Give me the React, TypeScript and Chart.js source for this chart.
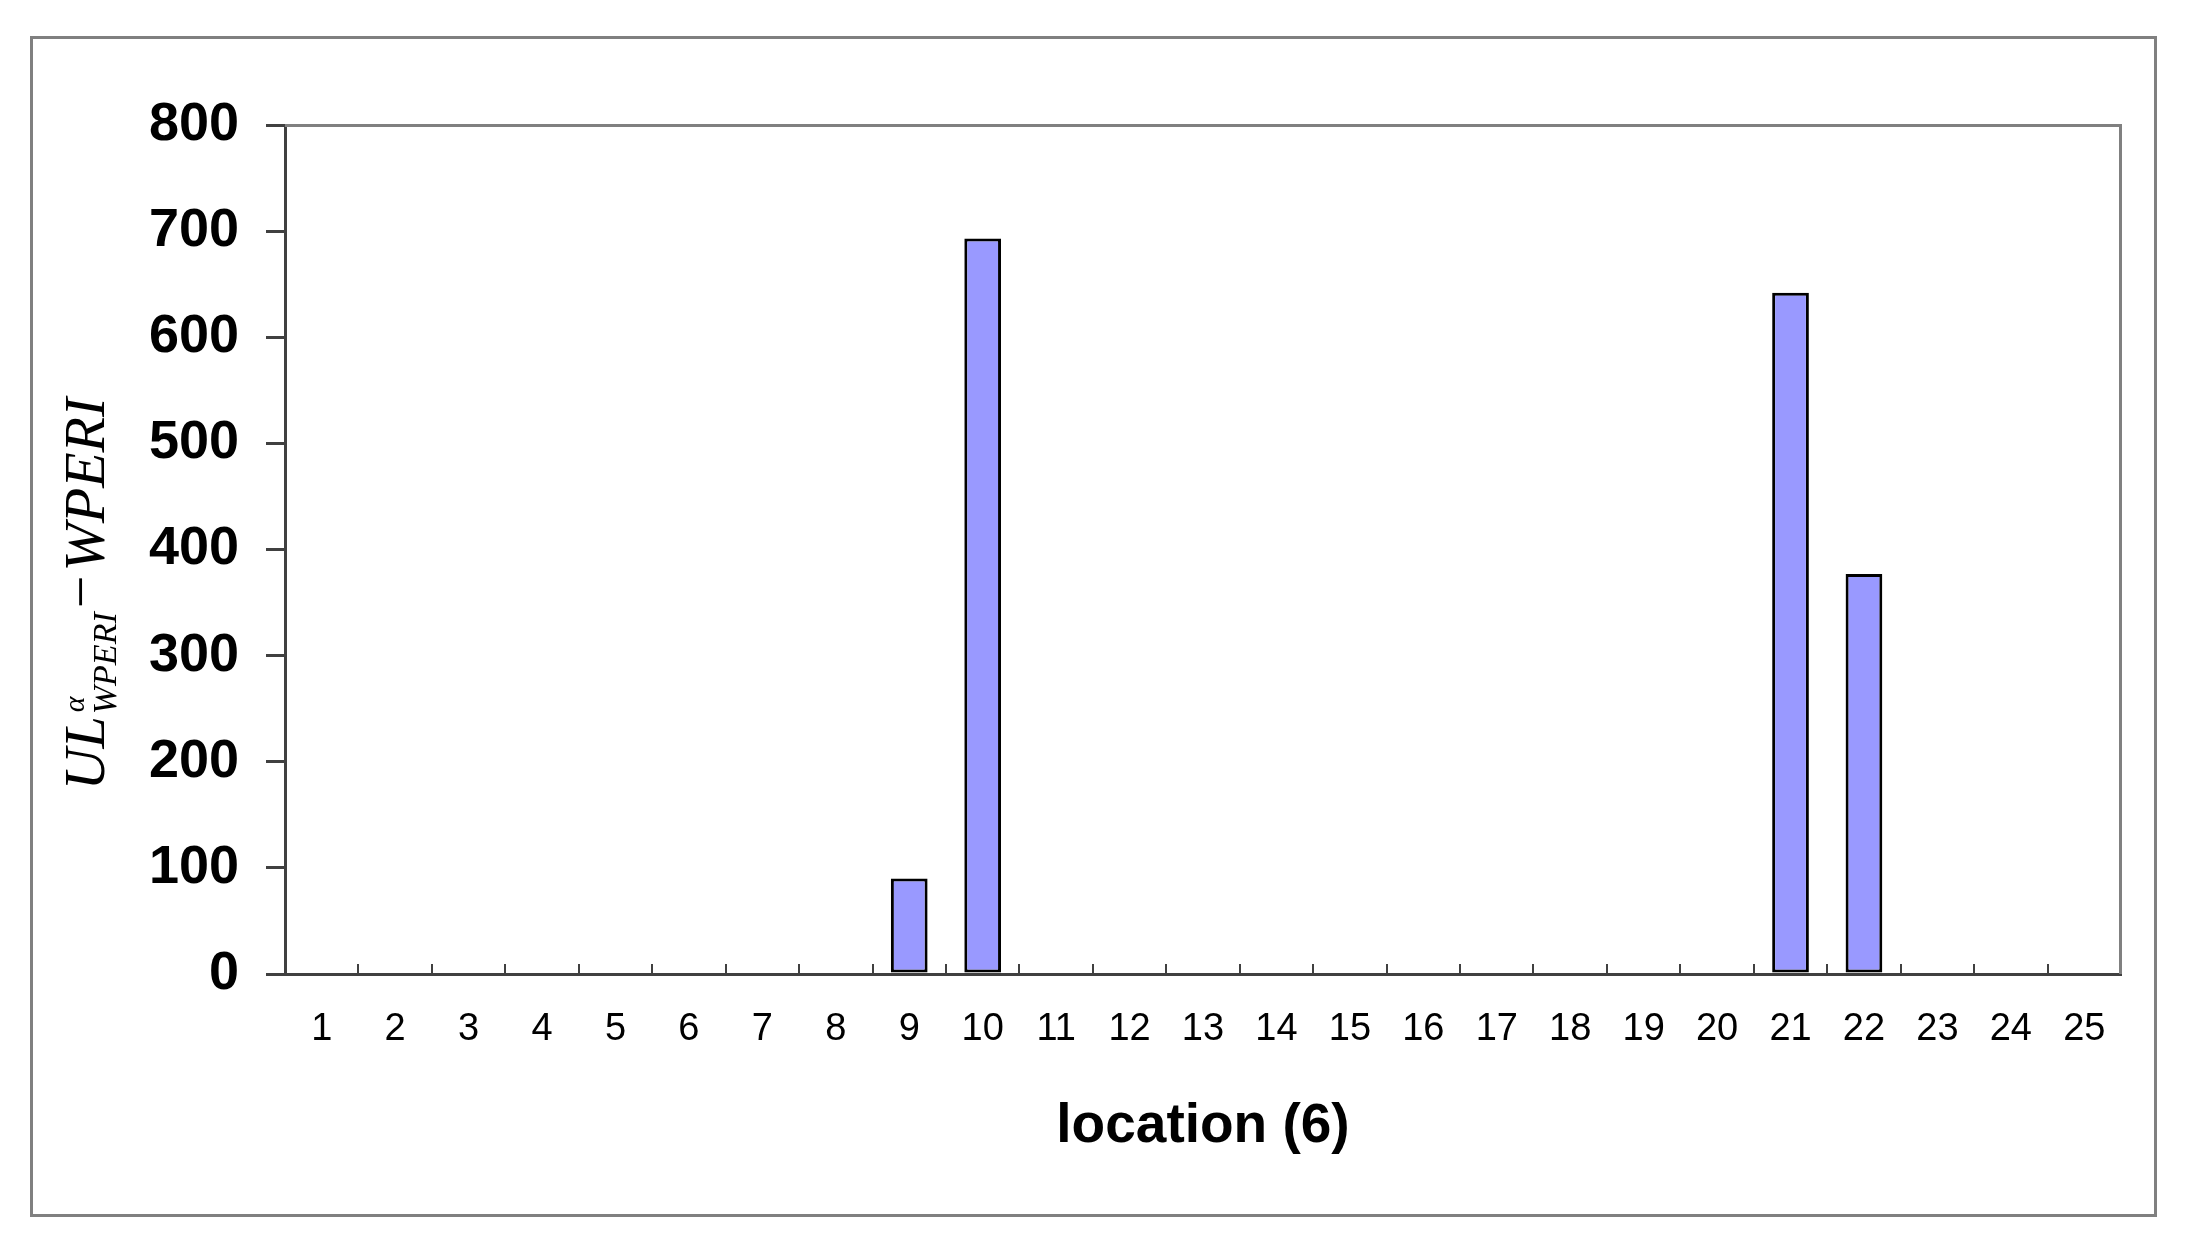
import React, { useEffect, useRef } from "react";
import { Chart, registerables } from "chart.js";

Chart.register(...registerables);

const categories: string[] = Array.from({ length: 25 }, (_, i) => String(i + 1));
const values: number[] = [0, 0, 0, 0, 0, 0, 0, 0, 90, 693, 0, 0, 0, 0, 0, 0, 0, 0, 0, 0, 642, 377, 0, 0, 0];
const yTickValues: number[] = [0, 100, 200, 300, 400, 500, 600, 700, 800];
const xTitle = "location (6)";
const yTitleMain = "UL";
const yTitleSup = "α";
const yTitleSub = "WPERI";
const yTitleRest = "WPERI";

const W = 2186;
const H = 1259;

const decorPlugin = {
  id: "decor",
  beforeDraw(chart: any) {
    const ctx = chart.ctx;
    ctx.save();
    ctx.fillStyle = "#ffffff";
    ctx.fillRect(0, 0, chart.width, chart.height);
    ctx.strokeStyle = "#808080";
    ctx.lineWidth = 3;
    ctx.strokeRect(31.5, 37.5, 2124, 1178);
    ctx.restore();
  },
  afterDraw(chart: any) {
    const ctx = chart.ctx;
    const { left, right, top, bottom } = chart.chartArea;
    const xs = chart.scales.x;
    ctx.save();
    ctx.strokeStyle = "#808080";
    ctx.lineWidth = 3;
    ctx.beginPath();
    ctx.moveTo(left, top + 0.5);
    ctx.lineTo(right - 0.5, top + 0.5);
    ctx.lineTo(right - 0.5, bottom);
    ctx.stroke();
    ctx.strokeStyle = "#404040";
    ctx.lineWidth = 2;
    for (let i = 1; i < categories.length; i++) {
      const x = Math.round((xs.getPixelForValue(i) + xs.getPixelForValue(i - 1)) / 2);
      ctx.beginPath();
      ctx.moveTo(x, bottom);
      ctx.lineTo(x, bottom - 10);
      ctx.stroke();
    }
    ctx.fillStyle = "#000000";
    ctx.font = 'bold 55px "Liberation Sans", Arial, sans-serif';
    ctx.textAlign = "center";
    ctx.textBaseline = "alphabetic";
    ctx.fillText(xTitle, (left + right) / 2, 1142);

    const mainFont = 'italic 58px "Liberation Serif", "Times New Roman", serif';
    const supFont = 'italic 30px "Liberation Serif", "Times New Roman", serif';
    const subFont = 'italic 34px "Liberation Serif", "Times New Roman", serif';
    const minusFont = '58px "Liberation Serif", "Times New Roman", serif';
    ctx.font = mainFont;
    const wMain = ctx.measureText(yTitleMain).width;
    const wRest = ctx.measureText(yTitleRest).width;
    ctx.font = supFont;
    const wSup = ctx.measureText(yTitleSup).width;
    ctx.font = subFont;
    const wSub = ctx.measureText(yTitleSub).width;
    ctx.font = minusFont;
    const wMinus = ctx.measureText("−").width;
    const gap = 4;
    const total = wMain + 2 + Math.max(wSup, wSub) + gap + wMinus + gap + wRest;
    const cy = 594;
    ctx.translate(104, cy + total / 2);
    ctx.rotate(-Math.PI / 2);
    ctx.textAlign = "left";
    let x = 0;
    ctx.font = mainFont;
    ctx.fillText(yTitleMain, x, 0);
    x += wMain + 2;
    ctx.font = supFont;
    ctx.fillText(yTitleSup, x + 2, -20);
    ctx.font = subFont;
    ctx.fillText(yTitleSub, x, 12);
    x += Math.max(wSup, wSub) + gap;
    ctx.font = minusFont;
    ctx.fillText("−", x, -4);
    x += wMinus + gap;
    ctx.font = mainFont;
    ctx.fillText(yTitleRest, x, 0);
    ctx.restore();
  },
};

export default function App() {
  const ref = useRef<HTMLCanvasElement>(null);
  useEffect(() => {
    if (!ref.current) return;
    const chart = new Chart(ref.current, {
      type: "bar",
      data: {
        labels: categories,
        datasets: [
          {
            data: values,
            backgroundColor: "#9999FF",
            borderColor: "#000000",
            borderWidth: 3,
            borderSkipped: false,
            barPercentage: 0.5,
            categoryPercentage: 1,
          },
        ],
      },
      options: {
        responsive: false,
        animation: false,
        events: [],
        layout: { padding: { left: 0, top: 125, right: 65, bottom: 0 } },
        plugins: {
          legend: { display: false },
          tooltip: { enabled: false },
          title: { display: false },
        },
        scales: {
          x: {
            offset: true,
            grid: { display: true, drawOnChartArea: false, drawTicks: false, color: "#404040" },
            border: { display: true, color: "#404040", width: 3 },
            ticks: {
              color: "#000000",
              font: { family: '"Liberation Sans", Arial, sans-serif', size: 38 },
              padding: 33,
              maxRotation: 0,
              autoSkip: false,
            },
            afterFit: (scale: any) => {
              scale.height = 285;
            },
          },
          y: {
            min: 0,
            max: 800,
            afterBuildTicks: (scale: any) => {
              scale.ticks = yTickValues.map((v) => ({ value: v }));
            },
            grid: { display: true, drawOnChartArea: false, drawTicks: true, tickLength: 19, color: "#404040", lineWidth: 3 },
            border: { display: true, color: "#404040", width: 3 },
            ticks: {
              color: "#000000",
              font: { family: '"Liberation Sans", Arial, sans-serif', size: 54, weight: "bold" },
              padding: 27,
            },
            afterFit: (scale: any) => {
              scale.width = 285;
            },
          },
        },
      },
      plugins: [decorPlugin],
    });
    return () => chart.destroy();
  }, []);
  return (
    <div style={{ position: "fixed", left: 0, top: 0, width: W, height: H, background: "#fff" }}>
      <canvas ref={ref} width={W} height={H} style={{ width: W, height: H, display: "block" }} />
    </div>
  );
}
